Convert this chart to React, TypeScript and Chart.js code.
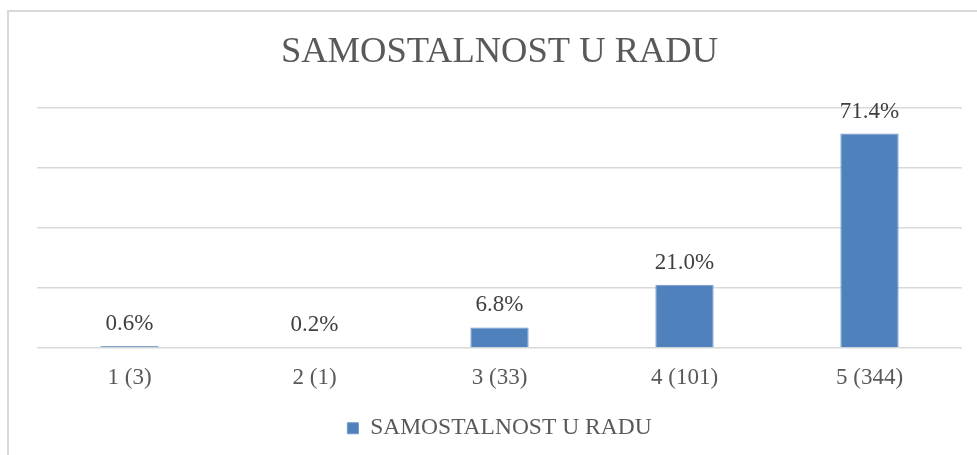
import React, { useEffect, useRef } from "react";
import { Chart, registerables } from "chart.js";

Chart.register(...registerables);

const categories = ["1 (3)", "2 (1)", "3 (33)", "4 (101)", "5 (344)"];
const values = [0.6, 0.2, 6.8, 21.0, 71.4];
const seriesName = "SAMOSTALNOST U RADU";
const chartTitle = "SAMOSTALNOST U RADU";
const yTicks = [0, 20, 40, 60, 80];

const FONT = '"Liberation Serif", "Times New Roman", serif';

const dataLabels = {
  id: "dataLabels",
  afterDatasetsDraw(chart: any) {
    const ctx = chart.ctx;
    const meta = chart.getDatasetMeta(0);
    const ds = chart.data.datasets[0];
    ctx.save();
    ctx.font = `23px ${FONT}`;
    ctx.fillStyle = "#404040";
    ctx.textAlign = "center";
    ctx.textBaseline = "alphabetic";
    meta.data.forEach((bar: any, i: number) => {
      const v = ds.data[i] as number;
      ctx.fillText(v.toFixed(1) + "%", bar.x, bar.y - 16);
    });
    ctx.restore();
  },
};

export default function App() {
  const ref = useRef<HTMLCanvasElement>(null);
  useEffect(() => {
    if (!ref.current) return;
    const chart = new Chart(ref.current, {
      type: "bar",
      data: {
        labels: categories,
        datasets: [
          {
            label: seriesName,
            data: values,
            backgroundColor: "#4f81bd",
            borderColor: "#7097c9",
            borderWidth: 1,
            barPercentage: 0.315,
            categoryPercentage: 1,
          },
        ],
      },
      options: {
        responsive: false,
        animation: false,
        devicePixelRatio: 1,
        layout: { padding: { left: 37, right: 15, top: 0, bottom: 5 } },
        plugins: {
          title: {
            display: true,
            text: chartTitle,
            color: "#595959",
            font: { family: FONT, size: 36.5, weight: "normal" },
            padding: { top: 31, bottom: 33 },
          },
          legend: {
            position: "bottom",
            labels: {
              color: "#595959",
              font: { family: FONT, size: 23.5 },
              boxWidth: 11,
              boxHeight: 11,
              padding: 9,
            },
          },
          tooltip: { enabled: false },
        },
        scales: {
          x: {
            grid: { display: false, drawTicks: false },
            border: { display: false },
            ticks: {
              color: "#595959",
              font: { family: FONT, size: 23 },
              padding: 16,
            },
          },
          y: {
            min: 0,
            max: 80,
            afterBuildTicks: (axis: any) => {
              axis.ticks = yTicks.map((v) => ({ value: v }));
            },
            grid: { color: "#d9d9d9", lineWidth: 1.5, drawTicks: false },
            border: { display: false },
            ticks: { display: false },
          },
        },
      },
      plugins: [dataLabels],
    });
    return () => chart.destroy();
  }, []);

  return (
    <div style={{ position: "absolute", left: 0, top: 0, width: 977, height: 455, overflow: "hidden", background: "#fff" }}>
      <div
        style={{
          position: "absolute",
          left: 7,
          top: 10,
          width: 1000,
          height: 500,
          border: "2px solid #d9d9d9",
          boxSizing: "border-box",
        }}
      />
      <canvas ref={ref} width={977} height={455} style={{ position: "absolute", left: 0, top: 0 }} />
    </div>
  );
}
